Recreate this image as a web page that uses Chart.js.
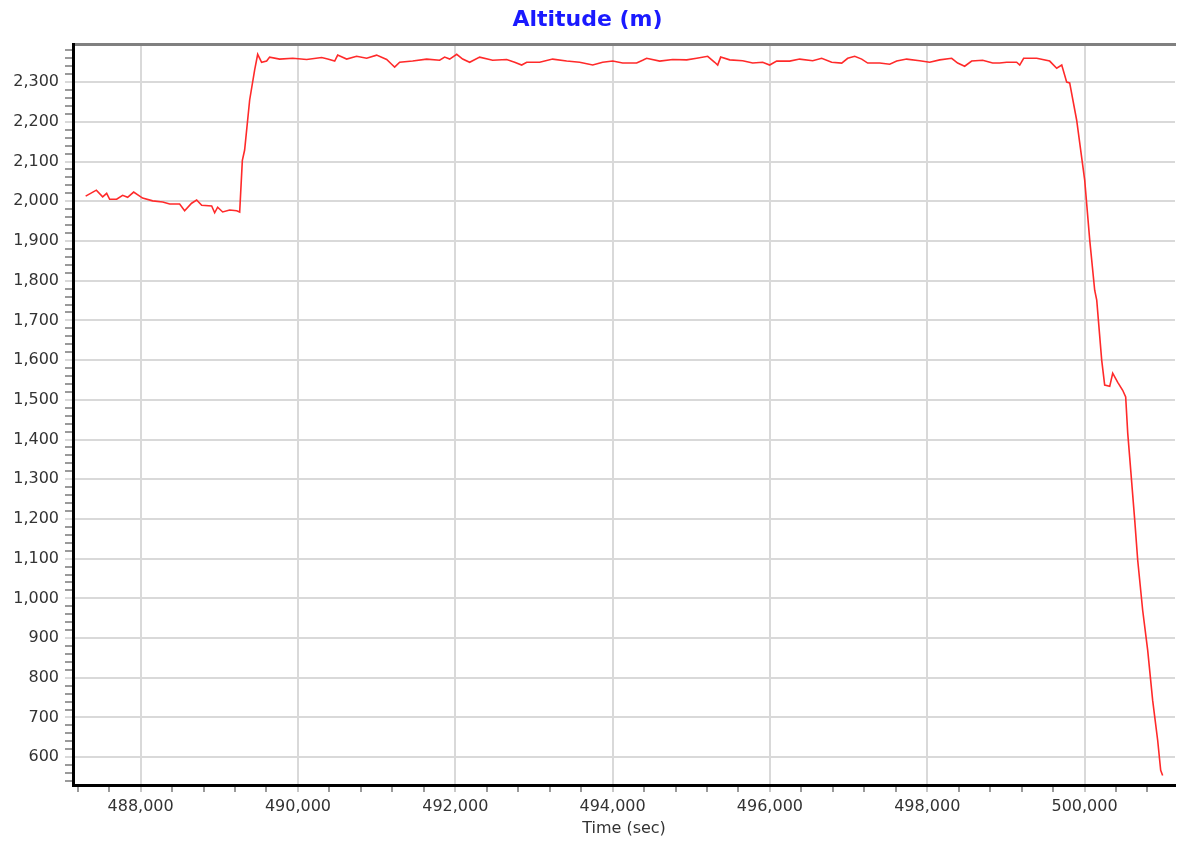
<!DOCTYPE html>
<html>
<head>
<meta charset="utf-8">
<title>Altitude (m)</title>
<script src="https://cdn.jsdelivr.net/npm/chart.js@4.4.1/dist/chart.umd.min.js"></script>
<style>
  html, body { margin: 0; padding: 0; background: #fff; }
  #wrap { width: 1177px; height: 846px; }
</style>
</head>
<body>
<div id="wrap"><canvas id="altChart"></canvas></div>
<script>
// time stamps (sec)
const timeSec = [
  487301, 487437, 487517, 487568, 487606, 487695, 487771, 487835, 487911, 488025,
  488153, 488280, 488369, 488496, 488559, 488648, 488712, 488776, 488903, 488941,
  488979, 489043, 489132, 489221, 489259, 489293, 489322, 489386, 489449, 489488,
  489538, 489602, 489640, 489767, 489933, 490111, 490301, 490378, 490467, 490505,
  490619, 490746, 490873, 491000, 491128, 491191, 491229, 491293, 491458, 491636,
  491801, 491865, 491929, 492018, 492094, 492183, 492310, 492475, 492653, 492755,
  492844, 492908, 493073, 493238, 493416, 493581, 493747, 493874, 494001, 494128,
  494306, 494382, 494433, 494599, 494764, 494942, 495069, 495209, 495298, 495336,
  495374, 495489, 495654, 495781, 495908, 495997, 496086, 496251, 496379, 496544,
  496658, 496785, 496913, 496989, 497078, 497167, 497243, 497396, 497523, 497612,
  497739, 497904, 498031, 498159, 498311, 498387, 498476, 498565, 498705, 498832,
  498921, 499010, 499137, 499176, 499226, 499392, 499557, 499646, 499710, 499773,
  499811, 499900, 500002, 500066, 500129, 500155, 500218, 500256, 500320, 500358,
  500422, 500485, 500523, 500549, 500574, 500638, 500676, 500739, 500803, 500866,
  500930, 500968, 500993
];

// altitude (m)
const altitude = [
  2013, 2028, 2011, 2020, 2005, 2005, 2015, 2010, 2023, 2008,
  2001, 1998, 1993, 1993, 1976, 1995, 2003, 1990, 1988, 1971,
  1985, 1973, 1978, 1976, 1973, 2103, 2129, 2255, 2330, 2370,
  2350, 2353, 2363, 2358, 2360, 2357, 2362, 2358, 2353, 2368,
  2358, 2365, 2360, 2368, 2357, 2345, 2338, 2350, 2353, 2358,
  2355, 2363, 2358, 2370, 2358, 2350, 2363, 2355, 2357, 2350,
  2343, 2350, 2350, 2358, 2353, 2350, 2343, 2350, 2353, 2348,
  2348, 2355, 2360, 2353, 2357, 2356, 2360, 2365, 2350, 2343,
  2363, 2356, 2354, 2348, 2350, 2343, 2353, 2353, 2358, 2354,
  2360, 2350, 2348, 2360, 2365, 2358, 2348, 2348, 2345, 2353,
  2358, 2354, 2350, 2356, 2360, 2348, 2340, 2353, 2355, 2348,
  2348, 2350, 2350, 2343, 2360, 2360, 2353, 2335, 2343, 2300,
  2298, 2204, 2053, 1902, 1776, 1751, 1600, 1537, 1534, 1567,
  1544, 1524, 1507, 1416, 1355, 1197, 1096, 970, 869, 743,
  642, 567, 554
];

const xMin = 487140, xMax = 501150;
const yMin = 530, yMax = 2396;
const xMinorStep = 400, xMajorStep = 2000;

const fmt = v => v.toLocaleString('en-US');
const isMajorX = ctx => ctx.tick && ctx.tick.value % xMajorStep === 0;
const isMajorY = ctx => ctx.tick && ctx.tick.value % 100 === 0;

const tickFont = { family: 'DejaVu Sans', size: 16 };

new Chart(document.getElementById('altChart'), {
  type: 'line',
  data: {
    datasets: [{
      label: 'Altitude (m)',
      data: timeSec.map((t, i) => ({ x: t, y: altitude[i] })),
      borderColor: '#ff2a2a',
      borderWidth: 1.6,
      pointRadius: 0,
      tension: 0,
      fill: false
    }]
  },
  options: {
    animation: false,
    responsive: true,
    maintainAspectRatio: false,
    layout: { padding: { left: 0, right: 2, top: 0, bottom: 0 } },
    plugins: {
      legend: { display: false },
      tooltip: { enabled: false },
      title: {
        display: true,
        text: 'Altitude (m)',
        color: '#1a1aff',
        font: { family: 'DejaVu Sans', size: 22, weight: 'bold' },
        padding: { top: 7, bottom: 10.6 }
      }
    },
    scales: {
      x: {
        type: 'linear',
        position: 'bottom',
        min: xMin,
        max: xMax,
        afterFit: s => { s.height = 61; },
        // minor ticks every 400 s, labels every 2,000 s
        afterBuildTicks: s => {
          const ticks = [];
          for (let v = Math.ceil(xMin / xMinorStep) * xMinorStep; v <= xMax; v += xMinorStep) {
            ticks.push({ value: v });
          }
          s.ticks = ticks;
        },
        ticks: {
          autoSkip: false,
          maxRotation: 0,
          padding: 5,
          color: '#333',
          font: tickFont,
          callback: v => (v % xMajorStep === 0 ? fmt(v) : '')
        },
        grid: {
          color: ctx => (isMajorX(ctx) ? '#d9d9d9' : 'rgba(0,0,0,0)'),
          tickColor: ctx => (isMajorX(ctx) ? '#c8c8c8' : '#9a9a9a'),
          lineWidth: 2,
          tickLength: 7
        },
        border: { color: '#000', width: 3 },
        title: {
          display: true,
          text: 'Time (sec)',
          color: '#333',
          font: tickFont,
          padding: { top: 0, bottom: 8 }
        }
      },
      xTop: {
        type: 'linear',
        position: 'top',
        min: xMin,
        max: xMax,
        afterFit: s => { s.height = 0; },
        ticks: { display: false },
        grid: { display: false, drawTicks: false },
        border: { color: '#808080', width: 3 }
      },
      y: {
        type: 'linear',
        min: yMin,
        max: yMax,
        afterFit: s => { s.width = 73; },
        ticks: {
          stepSize: 20,
          autoSkip: false,
          includeBounds: false,
          padding: 6,
          color: '#333',
          font: tickFont,
          callback: v => (v % 100 === 0 ? fmt(v) : '')
        },
        grid: {
          color: ctx => (isMajorY(ctx) ? '#d9d9d9' : 'rgba(0,0,0,0)'),
          tickColor: ctx => (isMajorY(ctx) ? '#d9d9d9' : '#9a9a9a'),
          lineWidth: 2,
          tickLength: 8
        },
        border: { color: '#000', width: 3 }
      }
    }
  }
});
</script>
</body>
</html>
